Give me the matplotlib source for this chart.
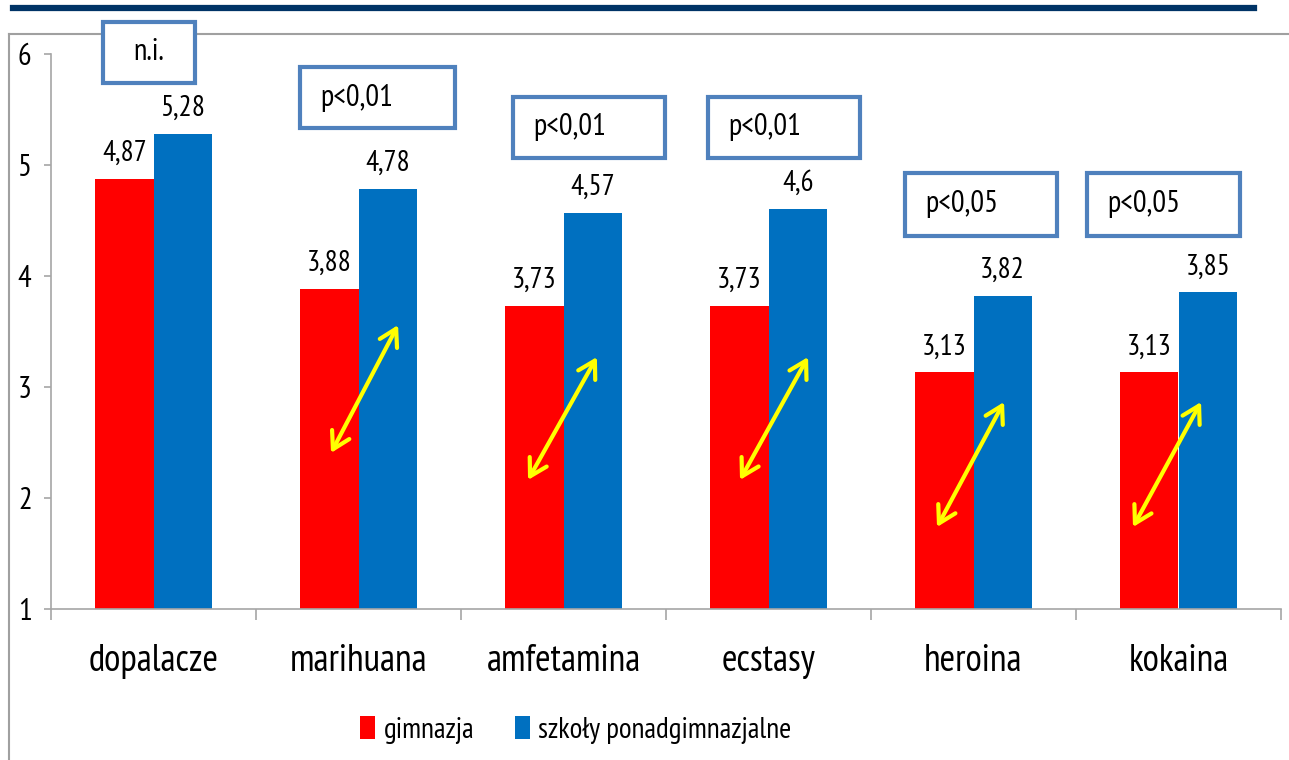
import matplotlib
matplotlib.use("Agg")
import matplotlib.pyplot as plt
from matplotlib.patches import Rectangle
from matplotlib.lines import Line2D
from matplotlib import font_manager

# ---------------- data ----------------
categories = ["dopalacze", "marihuana", "amfetamina", "ecstasy", "heroina", "kokaina"]
gimnazja = [4.87, 3.88, 3.73, 3.73, 3.13, 3.13]
ponadgimnazjalne = [5.28, 4.78, 4.57, 4.60, 3.82, 3.85]
labels_gim = ["4,87", "3,88", "3,73", "3,73", "3,13", "3,13"]
labels_pon = ["5,28", "4,78", "4,57", "4,6", "3,82", "3,85"]
series_names = ["gimnazja", "szkoły ponadgimnazjalne"]
significance = ["n.i.", "p<0,01", "p<0,01", "p<0,01", "p<0,05", "p<0,05"]
y_ticks = [1, 2, 3, 4, 5, 6]

# ---------------- annotation layout (category-relative) ----------------
box_layout = [(-0.246, 0.202, 5.736, 6.286),
              (-0.285, 0.471, 5.331, 5.880),
              (-0.247, 0.495, 5.061, 5.610),
              (-0.295, 0.446, 5.061, 5.610),
              (-0.334, 0.407, 4.359, 4.926),
              (-0.446, 0.300, 4.359, 4.926)]
arrow_layout = [None,
                (-0.134, 2.405, 0.193, 3.557),
                (-0.173, 2.162, 0.163, 3.269),
                (-0.139, 2.162, 0.193, 3.269),
                (-0.178, 1.738, 0.149, 2.864),
                (-0.222, 1.738, 0.110, 2.864)]

# ---------------- fonts ----------------
available = {f.name for f in font_manager.fontManager.ttflist}
fam = [f for f in ["PT Sans Narrow", "Liberation Sans", "DejaVu Sans"] if f in available]
plt.rcParams["font.family"] = fam

RED = "#FF0000"
BLUE = "#0070C0"
GRAY = "#A6A6A6"
BOXC = "#4F81BD"

W, H = 1289, 760
fig = plt.figure(figsize=(W / 100, H / 100), dpi=100)
ax = fig.add_axes([51 / W, (H - 609) / H, (1281 - 51) / W, (609 - 53.7) / H])

n = len(categories)
xs = list(range(n))
bw = 0.285
ax.bar([x - bw / 2 for x in xs], gimnazja, width=bw, bottom=0, color=RED,
       label=series_names[0], zorder=2)
ax.bar([x + bw / 2 for x in xs], ponadgimnazjalne, width=bw, color=BLUE,
       label=series_names[1], zorder=2)

for i in xs:
    ax.annotate(labels_gim[i], (i - bw / 2, gimnazja[i]), xytext=(0, 13),
                textcoords="offset points", ha="center", va="baseline",
                fontsize=21, color="black")
    ax.annotate(labels_pon[i], (i + bw / 2, ponadgimnazjalne[i]), xytext=(0, 13),
                textcoords="offset points", ha="center", va="baseline",
                fontsize=21, color="black")

ax.set_xlim(-0.5, n - 0.5)
ax.set_ylim(1, 6)
ax.set_yticks(y_ticks)
ax.set_yticklabels([str(t) for t in y_ticks], fontsize=22)
ax.set_xticks([i - 0.5 for i in range(n + 1)])
ax.set_xticklabels([])
ax.set_xticks(xs, minor=True)
ax.set_xticklabels(categories, minor=True, fontsize=27)
ax.tick_params(axis="x", which="major", length=8, width=1.2, color=GRAY, direction="out")
ax.tick_params(axis="x", which="minor", length=0, pad=25)
ax.tick_params(axis="y", which="major", length=5, width=1.2, color=GRAY,
               direction="out", pad=9)
for s in ["top", "right"]:
    ax.spines[s].set_visible(False)
for s in ["left", "bottom"]:
    ax.spines[s].set_color(GRAY)
    ax.spines[s].set_linewidth(1.2)

# significance boxes
for i in xs:
    x0, x1, y0, y1 = box_layout[i]
    rect = Rectangle((i + x0, y0), x1 - x0, y1 - y0, facecolor="white",
                     edgecolor=BOXC, linewidth=3, clip_on=False, zorder=5)
    ax.add_patch(rect)
    if significance[i] == "n.i.":
        ax.text(i + (x0 + x1) / 2, (y0 + y1) / 2, significance[i], ha="center",
                va="center", fontsize=22, zorder=6, clip_on=False)
    else:
        ax.text(i + x0 + 0.098, (y0 + y1) / 2, significance[i], ha="left",
                va="center", fontsize=22, zorder=6, clip_on=False)

# yellow arrows
for i in xs:
    a = arrow_layout[i]
    if a is None:
        continue
    ax.annotate("", xy=(i + a[2], a[3]), xytext=(i + a[0], a[1]),
                arrowprops=dict(arrowstyle="<->,head_length=0.6,head_width=0.35",
                                color="#FFFF00", lw=3, shrinkA=0, shrinkB=0,
                                mutation_scale=20, capstyle="round",
                                joinstyle="round"),
                zorder=4)

# legend
fig.legend(loc="center", bbox_to_anchor=(576 / W, (H - 730) / H), ncol=2,
           frameon=False, fontsize=21, handlelength=0.5, handleheight=0.8,
           handletextpad=0.3, columnspacing=1.4, borderaxespad=0)

# decorative frame and title rule
fig.add_artist(Line2D([13 / W, 1254 / W], [(H - 8) / H, (H - 8) / H], color="#003366",
                      linewidth=4.5, zorder=-1))
fig.add_artist(Line2D([9 / W, 1 + 0.01], [(H - 33.5) / H, (H - 33.5) / H], color="#A0A0A0",
                      linewidth=1.5, zorder=-1))
fig.add_artist(Line2D([9 / W, 9 / W], [(H - 33.5) / H, -0.01], color="#A0A0A0",
                      linewidth=1.5, zorder=-1))

fig.savefig("out.png", dpi=100)
